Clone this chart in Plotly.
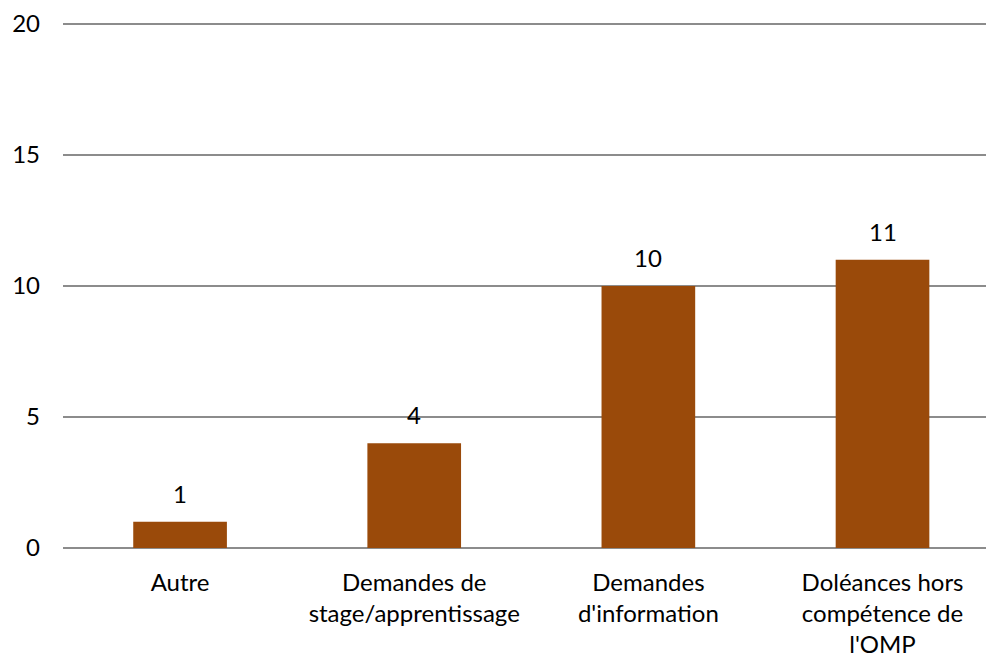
import plotly.graph_objects as go

categories = ["Autre", "Demandes de<br>stage/apprentissage", "Demandes<br>d'information",
              "Doléances hors<br>compétence de<br>l'OMP"]
values = [1, 4, 10, 11]
y_ticks = [0, 5, 10, 15, 20]

font_family = "Lato, 'Open Sans', sans-serif"
fs = 24

fig = go.Figure(go.Bar(
    x=categories, y=values,
    marker=dict(color="#9A4A0A", line=dict(width=0)),
))

for c, v in zip(categories, values):
    fig.add_annotation(x=c, y=v, text=str(v), showarrow=False, yanchor="bottom",
                       yshift=12, font=dict(size=fs, color="#000000", family=font_family))

fig.update_layout(
    width=986, height=657,
    margin=dict(l=63, r=0, t=23, b=109, autoexpand=False),
    plot_bgcolor="white", paper_bgcolor="white",
    bargap=0.6,
    showlegend=False,
    font=dict(family=font_family, size=fs, color="#000000"),
    xaxis=dict(range=[-0.5, 3.442], showgrid=False, showline=False, zeroline=False,
               automargin=False, tickfont=dict(size=fs), ticks="", ticklabelstandoff=18),
    yaxis=dict(range=[0, 20.04], tickvals=y_ticks, showgrid=True, gridcolor="#8C8C8C",
               gridwidth=1.5, zeroline=True, zerolinecolor="#8C8C8C", zerolinewidth=1.5,
               automargin=False, showline=False, tickfont=dict(size=fs), ticks="",
               ticklabelstandoff=22),
)

fig.write_html("out.html")
